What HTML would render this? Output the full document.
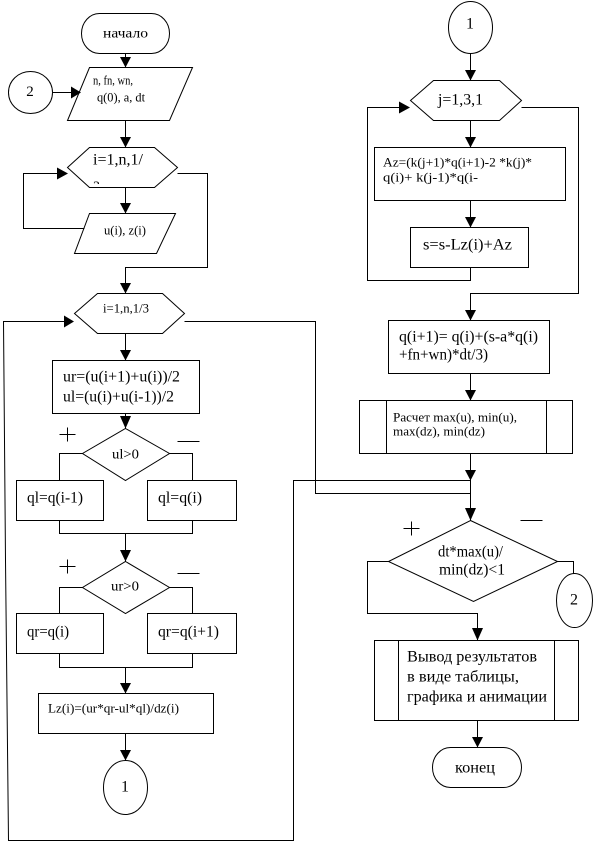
<!DOCTYPE html>
<html><head><meta charset="utf-8"><style>
html,body{margin:0;padding:0;background:#fff;}
svg{display:block;}
text{font-family:"Liberation Serif","DejaVu Serif",serif;fill:#000;}
</style></head><body>
<svg width="603" height="842" viewBox="0 0 603 842" xmlns="http://www.w3.org/2000/svg">
<defs>
<clipPath id="hx1"><rect x="60" y="140" width="130" height="44"/></clipPath>
</defs>
<rect x="0" y="0" width="603" height="842" fill="#fff"/>
<g transform="translate(0.5,0.5)" fill="none" stroke="#000" stroke-width="1">
<!-- LEFT COLUMN -->
<rect x="81" y="13" width="88" height="40" rx="18" ry="20"/>
<line x1="125" y1="53" x2="125" y2="67"/>
<polygon points="89,67 192,67 169,120 67,120"/>
<ellipse cx="30" cy="92" rx="22" ry="21"/>
<line x1="52" y1="92" x2="72" y2="92"/>
<line x1="125" y1="120" x2="125" y2="147"/>
<polygon points="67,167 89,147 154,147 177,167 154,187 89,187"/>
<polyline points="84,228 23,228 23,173 60,173"/>
<line x1="125" y1="187" x2="125" y2="213"/>
<polygon points="89,213 175,213 156,253 74,253"/>
<polyline points="177,173 207,173 207,267 125,267 125,293"/>
<polygon points="74,313 97,293 162,293 184,313 162,333 97,333"/>
<polyline points="470,480 293,480 293,840 8,840 5,560 3,321 66,321"/>
<polyline points="184,321 315,321 315,493 470,493 470,520"/>
<line x1="125" y1="333" x2="125" y2="360"/>
<rect x="52" y="360" width="147" height="53"/>
<line x1="125" y1="413" x2="125" y2="428"/>
<polygon points="125,428 169,453 125,480 82,453"/>
<polyline points="82,453 59,453 59,480"/>
<polyline points="169,453 192,453 192,480"/>
<rect x="16" y="480" width="87" height="40"/>
<rect x="147" y="480" width="89" height="40"/>
<polyline points="59,520 59,533 192,533 192,520"/>
<line x1="125" y1="533" x2="125" y2="561"/>
<polygon points="125,561 169,587 125,613 82,587"/>
<polyline points="82,587 59,587 59,613"/>
<polyline points="169,587 192,587 192,613"/>
<rect x="16" y="613" width="87" height="40"/>
<rect x="147" y="613" width="89" height="40"/>
<polyline points="59,653 59,667 192,667 192,653"/>
<line x1="125" y1="667" x2="125" y2="693"/>
<rect x="38" y="693" width="175" height="40"/>
<line x1="125" y1="733" x2="125" y2="760"/>
<ellipse cx="125" cy="787" rx="22" ry="27"/>
<!-- plus / minus -->
<line x1="59" y1="434" x2="75" y2="434"/><line x1="67" y1="427" x2="67" y2="441"/>
<line x1="177" y1="441" x2="199" y2="441"/>
<line x1="59" y1="566" x2="75" y2="566"/><line x1="67" y1="559" x2="67" y2="573"/>
<line x1="177" y1="573" x2="199" y2="573"/>
<!-- RIGHT COLUMN -->
<ellipse cx="470" cy="27" rx="22" ry="26"/>
<line x1="470" y1="53" x2="470" y2="80"/>
<polygon points="410,100 433,80 499,80 521,100 499,120 433,120"/>
<polyline points="470,267 470,280 367,280 367,107 402,107"/>
<polyline points="521,107 578,107 578,293 470,293 470,320"/>
<line x1="470" y1="120" x2="470" y2="147"/>
<rect x="374" y="147" width="191" height="53"/>
<line x1="470" y1="200" x2="470" y2="227"/>
<rect x="410" y="227" width="118" height="40"/>
<rect x="388" y="320" width="161" height="53"/>
<line x1="470" y1="373" x2="470" y2="400"/>
<rect x="359" y="400" width="213" height="53"/>
<line x1="386" y1="400" x2="386" y2="453"/>
<line x1="546" y1="400" x2="546" y2="453"/>
<line x1="470" y1="453" x2="470" y2="520"/>
<polygon points="470,520 557,561 473,601 388,561"/>
<line x1="403" y1="528" x2="419" y2="528"/><line x1="411" y1="521" x2="411" y2="535"/>
<line x1="520" y1="520" x2="542" y2="520"/>
<polyline points="388,561 367,561 367,613 477,613 477,640"/>
<polyline points="557,561 573,561 573,573"/>
<ellipse cx="574" cy="600" rx="18" ry="27"/>
<rect x="374" y="640" width="204" height="80"/>
<line x1="398" y1="640" x2="398" y2="720"/>
<line x1="554" y1="640" x2="554" y2="720"/>
<line x1="477" y1="720" x2="477" y2="747"/>
<rect x="432" y="747" width="89" height="40" rx="18" ry="20"/>
</g>
<!-- arrowheads -->
<g fill="#000" stroke="none">
<polygon points="120,57 131,57 125.5,67.5"/>
<polygon points="71,86.5 71,98.5 81,92.5"/>
<polygon points="120,137 131,137 125.5,147.5"/>
<polygon points="57,167.5 57,179.5 68,173.5"/>
<polygon points="120,203 131,203 125.5,213.5"/>
<polygon points="120,283 131,283 125.5,293.5"/>
<polygon points="64,315.5 64,327.5 74,321.5"/>
<polygon points="120,350 131,350 125.5,360.5"/>
<polygon points="120,416 131,416 125.5,428.5"/>
<polygon points="120,550 131,550 125.5,561.5"/>
<polygon points="120,683 131,683 125.5,693.5"/>
<polygon points="120,750 131,750 125.5,760.5"/>
<polygon points="465,70 476,70 470.5,80.5"/>
<polygon points="399,101.5 399,113.5 410,107.5"/>
<polygon points="465,137 476,137 470.5,147.5"/>
<polygon points="465,217 476,217 470.5,227.5"/>
<polygon points="465,310 476,310 470.5,320.5"/>
<polygon points="465,390 476,390 470.5,400.5"/>
<polygon points="465,470 476,470 470.5,480.5"/>
<polygon points="465,508 476,508 470.5,520.5"/>
<polygon points="472,628 483,628 477.5,640.5"/>
<polygon points="472,737 483,737 477.5,747.5"/>
</g>
<!-- text -->
<g dominant-baseline="central">
<text x="103" y="34" font-size="14" textLength="45" lengthAdjust="spacingAndGlyphs">начало</text>
<text x="93" y="80" font-size="13" textLength="40" lengthAdjust="spacingAndGlyphs">n, fn, wn,</text>
<text x="97" y="97" font-size="13" textLength="48" lengthAdjust="spacingAndGlyphs">q(0), a, dt</text>
<text x="30" y="92" font-size="15" text-anchor="middle">2</text>
<text x="93" y="160" font-size="16" textLength="50" lengthAdjust="spacingAndGlyphs">i=1,n,1/</text>
<text x="93" y="187" font-size="14" clip-path="url(#hx1)">3</text>
<text x="104" y="230" font-size="13" textLength="42" lengthAdjust="spacingAndGlyphs">u(i), z(i)</text>
<text x="103" y="308" font-size="13" textLength="46" lengthAdjust="spacingAndGlyphs">i=1,n,1/3</text>
<text x="63" y="377" font-size="16" textLength="117" lengthAdjust="spacingAndGlyphs">ur=(u(i+1)+u(i))/2</text>
<text x="63" y="397" font-size="16" textLength="111" lengthAdjust="spacingAndGlyphs">ul=(u(i)+u(i-1))/2</text>
<text x="112" y="455" font-size="14" textLength="27" lengthAdjust="spacingAndGlyphs">ul&gt;0</text>
<text x="27" y="498" font-size="16" textLength="56" lengthAdjust="spacingAndGlyphs">ql=q(i-1)</text>
<text x="158" y="498" font-size="16" textLength="44" lengthAdjust="spacingAndGlyphs">ql=q(i)</text>
<text x="111" y="587" font-size="14" textLength="28" lengthAdjust="spacingAndGlyphs">ur&gt;0</text>
<text x="27" y="632" font-size="16" textLength="42" lengthAdjust="spacingAndGlyphs">qr=q(i)</text>
<text x="158" y="632" font-size="16" textLength="61" lengthAdjust="spacingAndGlyphs">qr=q(i+1)</text>
<text x="48" y="708" font-size="13" textLength="131" lengthAdjust="spacingAndGlyphs">Lz(i)=(ur*qr-ul*ql)/dz(i)</text>
<text x="125" y="787" font-size="16" text-anchor="middle">1</text>
<text x="470" y="24" font-size="16" text-anchor="middle">1</text>
<text x="438" y="100" font-size="16" textLength="45" lengthAdjust="spacingAndGlyphs">j=1,3,1</text>
<text x="383" y="162" font-size="13" textLength="149" lengthAdjust="spacingAndGlyphs">Az=(k(j+1)*q(i+1)-2 *k(j)*</text>
<text x="383" y="177" font-size="13" textLength="95" lengthAdjust="spacingAndGlyphs">q(i)+ k(j-1)*q(i-</text>
<text x="423" y="245" font-size="16" textLength="89" lengthAdjust="spacingAndGlyphs">s=s-Lz(i)+Az</text>
<text x="399" y="337" font-size="16" textLength="139" lengthAdjust="spacingAndGlyphs">q(i+1)= q(i)+(s-a*q(i)</text>
<text x="399" y="355" font-size="16" textLength="89" lengthAdjust="spacingAndGlyphs">+fn+wn)*dt/3)</text>
<text x="393" y="417" font-size="13" textLength="124" lengthAdjust="spacingAndGlyphs">Расчет max(u), min(u),</text>
<text x="393" y="431" font-size="13" textLength="92" lengthAdjust="spacingAndGlyphs">max(dz), min(dz)</text>
<text x="438" y="552" font-size="16" textLength="65" lengthAdjust="spacingAndGlyphs">dt*max(u)/</text>
<text x="439" y="570" font-size="16" textLength="66" lengthAdjust="spacingAndGlyphs">min(dz)&lt;1</text>
<text x="574" y="600" font-size="16" text-anchor="middle">2</text>
<text x="407" y="657" font-size="16" textLength="130" lengthAdjust="spacingAndGlyphs">Вывод результатов</text>
<text x="407" y="677" font-size="16" textLength="112" lengthAdjust="spacingAndGlyphs">в виде таблицы,</text>
<text x="407" y="697" font-size="16" textLength="140" lengthAdjust="spacingAndGlyphs">графика и анимации</text>
<text x="455" y="768" font-size="16" textLength="40" lengthAdjust="spacingAndGlyphs">конец</text>
</g>
</svg>
</body></html>
